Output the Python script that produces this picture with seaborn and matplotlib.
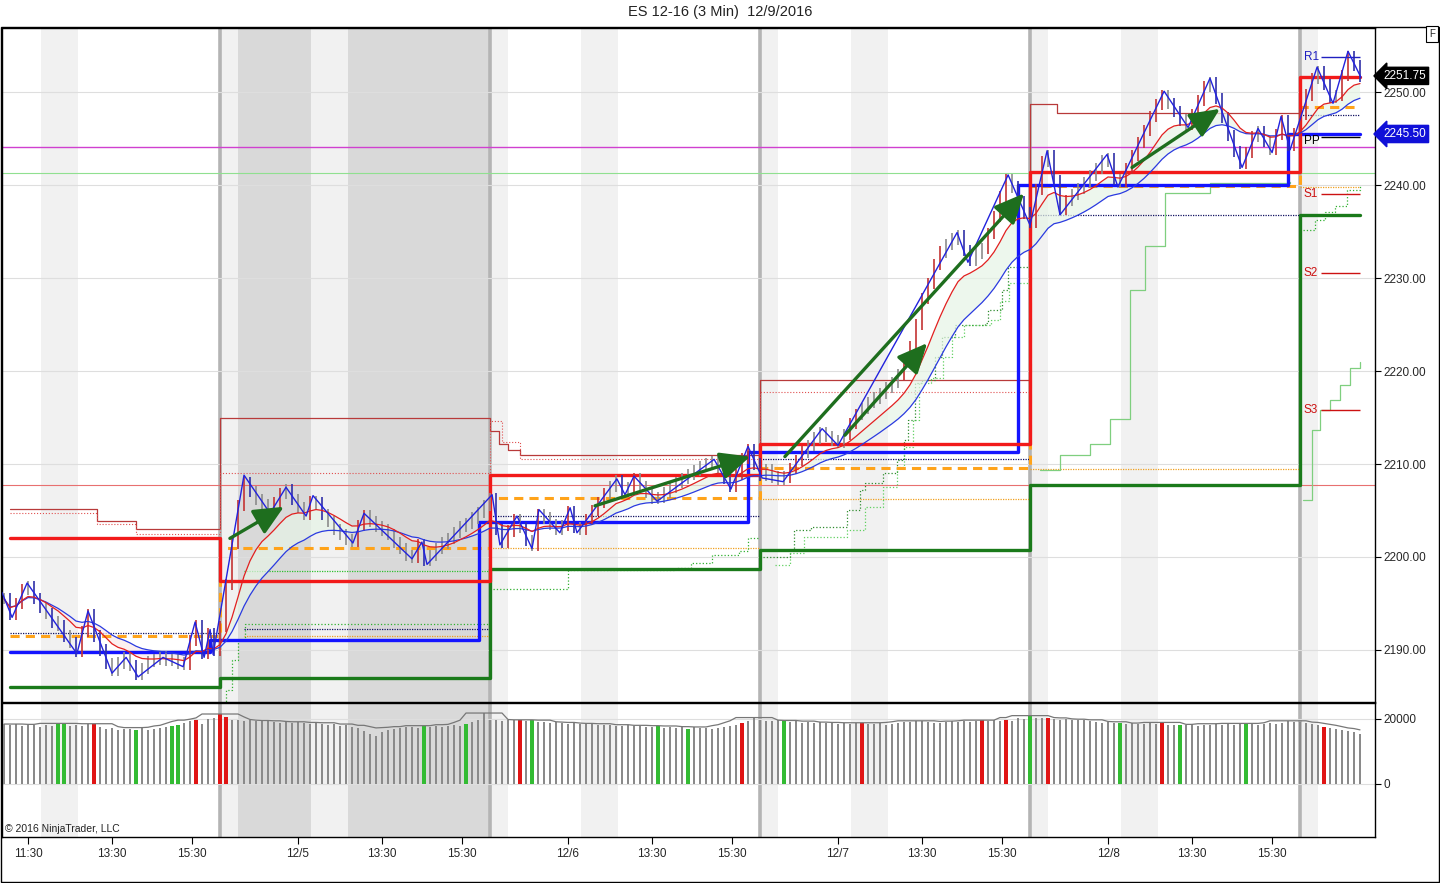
import numpy as np
import pandas as pd
import matplotlib
matplotlib.use("Agg")
from matplotlib import pyplot as plt
from matplotlib import transforms
from matplotlib.patches import Rectangle
import seaborn as sns

sns.set_theme(style="white")
plt.rcParams["font.family"] = ["Liberation Sans", "DejaVu Sans"]

# ---------------- data (bar index = 3 min bars, 90 per session) ----------------

sess_edges = [20, 90, 180, 270, 360, 450, 470]
tick_labels = ["11:30", "13:30", "15:30",
               "12/5", "13:30", "15:30",
               "12/6", "13:30", "15:30",
               "12/7", "13:30", "15:30",
               "12/8", "13:30", "15:30"]

# closes, one every 2 bars from bar 18 to bar 470
close = [
    # 12/2
    2195.5, 2193.8, 2195.0, 2196.5, 2196.8, 2195.5, 2194.6, 2193.9, 2193.0, 2192.6,
    2191.5, 2190.8, 2189.8, 2192.0, 2193.8, 2191.5, 2190.0, 2188.5, 2187.8, 2188.6,
    2189.2, 2188.3, 2187.4, 2188.0, 2188.8, 2189.0, 2189.3, 2188.9, 2189.0, 2188.6,
    2188.4, 2191.0, 2192.6, 2189.6, 2191.8, 2190.0,
    # 12/5
    2192.5, 2197.0, 2201.5, 2205.5, 2208.0, 2207.0, 2206.2, 2205.6, 2204.9, 2205.8,
    2206.8, 2207.2, 2206.2, 2205.3, 2204.6, 2206.0, 2205.8, 2204.6, 2203.8, 2203.0,
    2202.4, 2201.9, 2201.7, 2203.4, 2204.4, 2203.8, 2203.3, 2202.9, 2202.4, 2201.6,
    2200.9, 2200.2, 2200.0, 2201.3, 2199.6, 2200.2, 2200.9, 2201.5, 2202.0, 2202.6,
    2203.3, 2203.6, 2204.2, 2204.8, 2205.5,
    # 12/6
    2206.3, 2203.0, 2201.6, 2202.8, 2204.0, 2203.2, 2201.8, 2201.2, 2204.6, 2204.2,
    2203.5, 2203.0, 2203.4, 2204.9, 2203.2, 2203.0, 2204.0, 2205.0, 2205.9, 2206.8,
    2207.6, 2208.2, 2207.0, 2207.5, 2208.4, 2207.6, 2206.9, 2206.3, 2206.4, 2206.9,
    2207.5, 2208.0, 2208.4, 2208.9, 2209.3, 2209.7, 2210.0, 2210.3, 2209.6, 2208.5,
    2207.6, 2208.9, 2210.6, 2211.5, 2210.0,
    # 12/7
    2208.8, 2209.4, 2208.6, 2208.3, 2208.6, 2209.5, 2210.4, 2211.3, 2212.0, 2212.8,
    2213.4, 2213.0, 2212.5, 2212.3, 2213.2, 2214.4, 2215.3, 2216.0, 2216.6, 2217.1,
    2217.6, 2218.2, 2218.8, 2219.6, 2220.9, 2222.6, 2225.0, 2227.8, 2229.4, 2231.5,
    2232.8, 2233.6, 2234.2, 2234.6, 2233.0, 2231.9, 2232.6, 2233.2, 2234.8, 2236.6,
    2238.8, 2240.6, 2239.8, 2238.2, 2237.0,
    # 12/8
    2236.0, 2239.5, 2242.5, 2243.2, 2240.5, 2237.4, 2238.3, 2239.0, 2239.6, 2240.3,
    2241.0, 2241.8, 2242.6, 2242.9, 2240.6, 2240.4, 2241.8, 2243.2, 2244.6, 2245.9,
    2247.4, 2248.7, 2249.6, 2248.8, 2247.9, 2247.0, 2246.5, 2247.6, 2249.1, 2250.6,
    2251.0, 2249.3, 2247.3, 2245.3, 2243.6, 2242.3, 2243.5, 2245.2, 2245.8, 2244.7,
    2243.8, 2245.4, 2246.9, 2244.3,
    # 12/9
    2245.5, 2247.6, 2249.7, 2251.5, 2252.2, 2250.8, 2249.4, 2249.6, 2251.8, 2253.8,
    2252.9, 2251.7,
]
bar_x = np.arange(18, 472, 2)

# swing (zigzag) pivots
zz_x = [17.3, 20.7, 25.7, 42.3, 46.0, 54.0, 58.7, 62.7, 71.0, 77.7, 81.7, 84.7, 86.7, 87.7,
        98.0, 106.7, 112.0, 118.7, 121.0, 134.3, 138.0, 154.0, 157.3, 159.0,
        180.7, 183.3, 189.0, 194.0, 196.3, 203.3, 206.7, 209.0, 222.3, 225.0, 228.0, 235.7,
        254.7, 260.3, 266.0, 270.7, 277.7, 290.7, 296.0, 335.7, 339.3, 352.7, 360.0,
        365.7, 370.0, 385.7, 389.3, 404.7, 412.7, 420.0, 430.7, 436.0, 440.7, 443.7, 446.7,
        455.7, 461.0, 466.0, 470.3]
zz_y = [2196.2, 2193.5, 2197.2, 2189.6, 2194.2, 2187.5, 2189.2, 2187.1, 2189.2, 2188.2, 2193.0, 2189.2, 2192.2, 2189.5,
        2208.8, 2204.7, 2207.5, 2204.4, 2206.6, 2201.5, 2204.7, 2199.8, 2201.6, 2199.2,
        2206.7, 2201.3, 2204.4, 2200.9, 2205.1, 2202.6, 2205.3, 2202.6, 2208.4, 2206.7, 2208.7, 2206.0,
        2210.5, 2207.3, 2211.9, 2208.5, 2208.1, 2213.8, 2212.0, 2234.9, 2231.7, 2241.1, 2235.7,
        2243.7, 2236.8, 2243.3, 2239.8, 2250.1, 2246.2, 2251.5, 2241.9, 2246.1, 2243.5, 2247.4, 2243.8,
        2252.7, 2248.8, 2254.4, 2251.6]

# daily levels, one per session
red_thick = [2202.0, 2197.4, 2208.8, 2212.2, 2241.4, 2251.6]
green_thick = [2186.0, 2187.0, 2198.7, 2200.8, 2207.7, 2236.8]
orange_mid = [2191.5, 2201.0, 2206.3, 2209.6, 2239.9, 2248.4]
blue_x = [20, 86.7, 176.3, 266, 356, 446, 470]
blue_y = [2189.8, 2191.1, 2203.8, 2211.3, 2240.0, 2245.5, 2245.5]

prior_hi_x = [20, 49, 62, 90, 180, 183, 186, 190, 270, 360, 369, 450]
prior_hi_y = [2205.2, 2203.9, 2203.0, 2215.0, 2213.6, 2212.2, 2211.5, 2211.0, 2219.0, 2248.7, 2247.8, 2247.8]
prior_hi2_x = [20, 49, 62, 90, 180, 184, 190, 270, 360]
prior_hi2_y = [2204.7, 2203.5, 2202.5, 2209.0, 2214.6, 2212.4, 2210.5, 2217.7, 2217.7]

dark_dotted = [2191.8, 2192.3, 2204.4, 2210.5, 2236.8, 2247.5]
orange_dotted = [np.nan, 2191.5, 2201.0, 2206.2, 2209.5, 2239.8]
green_dotted = [np.nan, 2198.5, np.nan, np.nan, np.nan, np.nan]

dev1_x = [90, 92, 94, 96, 98.3, 180]
dev1_y = [2183.3, 2185.7, 2188.9, 2191.1, 2192.8, 2192.8]
dev2_x = [181, 201, 206, 242, 247, 254, 263, 266, 270]
dev2_y = [2196.6, 2196.6, 2198.6, 2198.8, 2199.4, 2200.2, 2200.6, 2202.0, 2202.0]
dev3_x = [271, 280, 281.2, 287, 299, 303.3, 305, 311, 315.7, 318, 319.3, 321.7, 324, 328.3, 330.7,
          335, 345, 346, 350.7, 352.7, 360]
dev3_y = [2200.0, 2200.8, 2202.9, 2203.2, 2205.1, 2207.2, 2208.0, 2209.0, 2210.4, 2212.6, 2214.7,
          2218.7, 2219.0, 2221.5, 2223.7, 2225.0, 2225.2, 2226.6, 2228.7, 2231.2, 2231.2]
dev3b_x = [275, 280, 284.7, 299, 305, 311, 315.7, 318, 321, 323, 327, 331, 334, 338, 347, 350, 353, 360]
dev3b_y = [2199.1, 2200.4, 2202.2, 2202.9, 2205.4, 2207.5, 2209.7, 2211.8, 2214.7, 2218.7, 2219.2,
           2221.5, 2223.7, 2225.0, 2225.5, 2227.5, 2229.5, 2229.5]
dev4_x = [363.3, 370, 380, 386.7, 393.3, 398.3, 405, 420, 446.7]
dev4_y = [2209.4, 2211.0, 2212.1, 2214.8, 2228.7, 2233.5, 2239.1, 2240.2, 2240.3]
dev5_x = [451, 455, 458.3, 461.7, 465.7, 470]
dev5_y = [2235.2, 2236.2, 2237.1, 2237.8, 2239.5, 2239.9]
dev6_x = [451, 454, 456.7, 460, 463.3, 466.7, 470]
dev6_y = [2206.1, 2213.7, 2215.8, 2216.9, 2218.5, 2220.3, 2221.0]

full_lines = [(2207.7, "#e87070", 0.8), (2244.1, "#d040d0", 1.0), (2241.3, "#90e090", 0.8)]

pivot_names = ["R1", "PP", "S1", "S2", "S3"]
pivot_vals = [2253.8, 2245.2, 2239.0, 2230.5, 2215.8]
pivot_cols = ["#2020c0", "#000000", "#cc1111", "#cc1111", "#cc1111"]

arrows = [((93.3, 2202.0), (111.3, 2205.4)),
          ((215.0, 2205.5), (266.7, 2210.8)),
          ((278.3, 2210.8), (358.0, 2239.1)),
          ((298.3, 2213.1), (325.7, 2223.0)),
          ((394.0, 2241.9), (423.3, 2248.2))]

# volume (thousands), same sampling as close
vol = [
    18.4, 18.1, 18.3, 17.9, 18.2, 18.0, 17.6, 18.1, 17.8, 18.6, 18.4, 17.9, 18.0, 17.7, 18.3, 18.5, 17.6,
    16.9, 17.2, 16.6, 16.8, 17.0, 16.5, 17.3, 16.7, 16.9, 17.1, 17.4,
    17.8, 18.0, 18.6, 19.2, 19.6, 18.4, 19.9, 20.3,
    21.5, 20.6, 19.8, 19.6, 19.4, 19.5, 19.3, 19.4, 19.2,
    19.0, 18.8, 19.1, 18.7, 18.9, 18.6, 18.5, 18.8, 18.3, 18.1, 18.4, 17.9, 18.0,
    17.6, 17.2, 16.4, 15.2, 14.6, 15.8, 16.6, 17.0, 17.3,
    17.4, 17.6, 17.2, 17.9, 17.5, 17.8, 17.4, 17.9, 18.2, 17.8, 18.3, 18.9, 19.6,
    21.8, 19.8, 19.6, 19.4, 19.5, 19.7, 19.5, 19.3, 19.6, 19.1, 19.0, 18.8, 18.9,
    18.7, 18.5, 18.6, 18.4, 18.3, 18.5, 18.2, 18.0, 18.2, 17.9, 17.8, 18.0, 17.7, 17.9, 17.6, 17.5, 17.8, 17.3, 17.6, 17.2,
    17.4, 17.0, 17.5, 17.3, 17.1, 16.8, 17.2, 17.5, 17.9, 18.2, 18.8, 19.4, 20.4,
    19.6, 19.4, 19.3, 19.5, 19.2, 19.0, 19.3, 18.8, 19.0, 18.7, 18.9, 18.6,
    18.8, 18.5, 18.7, 18.4, 18.6, 18.8, 18.3, 18.5, 18.6, 18.2, 18.4, 18.7, 18.9, 19.1, 19.4, 19.2, 19.0, 18.6, 18.8, 19.0, 19.2, 19.0, 19.3,
    19.1, 19.4, 19.6, 19.3, 19.5, 19.4, 19.6, 19.2, 20.4, 20.1,
    21.0, 20.4, 20.2, 20.3, 20.0, 19.8, 19.9, 19.6, 19.5, 19.7,
    19.2, 19.0, 18.8, 19.1, 18.7, 18.6, 18.4, 18.7, 18.5, 18.3, 18.6, 18.4, 18.9, 18.2, 18.0,
    18.1, 18.0, 18.3, 17.9, 18.2, 18.0, 18.5, 18.1, 18.4, 18.2, 18.6, 18.3, 18.5, 18.2, 18.4, 18.6, 18.3, 18.8, 19.4, 19.0,
    18.9, 18.6, 18.3, 18.0, 17.6, 17.2, 17.0, 16.6, 16.2, 15.8, 15.4,
]
vol_up = [9, 10, 22, 28, 29, 70, 77, 88, 109, 114, 130, 171, 186, 196, 207]
vol_dn = [15, 32, 36, 37, 86, 123, 143, 163, 167, 174, 193, 220]

# ---------------- figure ----------------
W, H = 1440, 883
fig = plt.figure(figsize=(W / 100, H / 100), dpi=100)
ax = fig.add_axes([2 / W, 1 - 702 / H, 1373 / W, 674 / H])
axv = fig.add_axes([2 / W, 1 - 837 / H, 1373 / W, 134 / H], sharex=ax)

XMIN, XMAX = 17.33, 475
ax.set_xlim(XMIN, XMAX)
ax.set_ylim(2184.4, 2256.9)
axv.set_ylim(-16500, 24900)

# session background bands
for a in (ax, axv):
    for k in range(6):
        s = 90 * k
        a.axvspan(s, s + 6, color="#f1f1f1", lw=0, zorder=0)
        a.axvspan(s + 30.3, s + 42.7, color="#f1f1f1", lw=0, zorder=0)
    a.axvspan(96, 120.3, color="#d9d9d9", lw=0, zorder=0)
    a.axvspan(132.7, 180, color="#d9d9d9", lw=0, zorder=0)
    for e in sess_edges[1:-1]:
        a.axvline(e, color="#b4b4b4", lw=2.6, zorder=1)

for p in range(2190, 2251, 10):
    ax.axhline(p, color="#dedede", lw=0.8, zorder=1)
for p in [0, 20000]:
    axv.axhline(p, color="#dedede", lw=0.8, zorder=1)
for lvl, col, w in full_lines:
    ax.axhline(lvl, color=col, lw=w, zorder=2)

# thin prior-day levels
sns.lineplot(x=prior_hi_x, y=prior_hi_y, drawstyle="steps-post", color="#b83a3a", lw=0.9, ax=ax, zorder=2)
sns.lineplot(x=prior_hi2_x, y=prior_hi2_y, drawstyle="steps-post", color="#e05050", lw=0.8,
             linestyle=":", ax=ax, zorder=2)
for k in range(6):
    x0 = sess_edges[k] if k != 1 else 98
    x1 = sess_edges[k + 1]
    ax.hlines(dark_dotted[k], x0, x1, colors="#101060", lw=0.9, linestyles=(0, (1, 1)), zorder=2)
    ax.hlines(orange_dotted[k], x0, x1, colors="#f0a020", lw=0.9, linestyles=(0, (1, 1)), zorder=2)
    ax.hlines(green_dotted[k], x0, x1, colors="#30c030", lw=0.9, linestyles=(0, (1, 1)), zorder=2)

for xs, ys, ls, col in [(dev1_x, dev1_y, ":", "#30b030"), (dev2_x, dev2_y, ":", "#30b030"),
                        (dev3_x, dev3_y, ":", "#2e8b2e"), (dev3b_x, dev3b_y, ":", "#60d060"),
                        (dev4_x, dev4_y, "-", "#7fcf7f"),
                        (dev5_x, dev5_y, ":", "#30b030"), (dev6_x, dev6_y, "-", "#7fcf7f")]:
    sns.lineplot(x=xs, y=ys, drawstyle="steps-post", color=col, lw=0.9, linestyle=ls, ax=ax, zorder=2)

# moving averages and faint cloud between them
cs = pd.Series(close, index=bar_x)
ema_f = cs.ewm(span=10).mean()
ema_s = cs.ewm(span=20).mean()
ax.fill_between(bar_x, ema_f, ema_s, where=(ema_f >= ema_s), interpolate=True,
                color="#e6f4e6", alpha=0.7, lw=0, zorder=2)
ax.fill_between(bar_x, ema_f, ema_s, where=(ema_f < ema_s), interpolate=True,
                color="#fbeaea", alpha=0.7, lw=0, zorder=2)

# daily thick levels
lev_x = sess_edges[:-1] + [sess_edges[-1]]
sns.lineplot(x=lev_x, y=green_thick + [green_thick[-1]], drawstyle="steps-post", color="#1a7a1a", lw=2.4, ax=ax, zorder=4)
sns.lineplot(x=lev_x, y=orange_mid + [orange_mid[-1]], drawstyle="steps-post", color="#ffa31a", lw=2.2,
             linestyle=(0, (3, 2)), ax=ax, zorder=4)
sns.lineplot(x=blue_x, y=blue_y, drawstyle="steps-post", color="#1414ff", lw=2.4, ax=ax, zorder=4)
sns.lineplot(x=lev_x, y=red_thick + [red_thick[-1]], drawstyle="steps-post", color="#f21a1a", lw=2.4, ax=ax, zorder=4)

# price bars
prev = np.r_[close[0], close[:-1]]
cur = np.array(close)
lo = np.minimum(prev, cur) - 0.6
hi = np.maximum(prev, cur) + 0.6
chg = cur - prev
bar_col = np.where(chg > 0.9, "#c43434", np.where(chg < -0.9, "#3030a8", "#8c8c8c"))
ax.vlines(bar_x, lo, hi, colors=bar_col, lw=1.2, zorder=5)

sns.lineplot(x=bar_x, y=ema_s.values, color="#2a3ae0", lw=0.9, ax=ax, zorder=6)
sns.lineplot(x=bar_x, y=ema_f.values, color="#e22020", lw=0.9, ax=ax, zorder=6)
sns.lineplot(x=zz_x, y=zz_y, color="#2222dd", lw=1.0, ax=ax, zorder=7, sort=False, estimator=None)

for (x0, y0), (x1, y1) in arrows:
    ax.annotate("", xy=(x1, y1), xytext=(x0, y0), zorder=8,
                arrowprops=dict(arrowstyle="-|>,head_length=1.3,head_width=0.6", mutation_scale=14,
                                color="#1e6e1e", lw=2.4, shrinkA=0, shrinkB=0))

# floor pivots for the last session
for nm, v, col in zip(pivot_names, pivot_vals, pivot_cols):
    ax.hlines(v, 457, 470, colors=col, lw=1.0, zorder=6)
    ty = v - 0.45 if nm == "PP" else v
    ax.text(451.3, ty, nm, color=col, fontsize=8.5, va="center", ha="left", zorder=9)

# volume panel
vol_arr = np.array(vol) * 1000
vcol = np.array(["#8a8a8a"] * len(vol))
vw = np.full(len(vol), 0.75)
vcol[vol_up] = "#33bb33"
vcol[vol_dn] = "#e01414"
vw[vol_up] = 1.5
vw[vol_dn] = 1.5
axv.bar(bar_x, vol_arr, width=vw, color=vcol, lw=0, zorder=3)
vavg = pd.Series(vol_arr).rolling(7, center=True, min_periods=1).max()
sns.lineplot(x=bar_x, y=vavg.values, color="#777777", lw=0.9, ax=axv, zorder=4)
axv.text(0.002, 0.035, "\u00a9 2016 NinjaTrader, LLC", transform=axv.transAxes, fontsize=7.5, color="#222222")

# axes cosmetics
for a in (ax, axv):
    a.set_xlabel("")
    a.set_ylabel("")
    a.yaxis.tick_right()
    for sp in a.spines.values():
        sp.set_color("black")
        sp.set_linewidth(1.0)
    a.tick_params(axis="y", which="both", right=True, left=False, direction="out", length=4,
                  width=0.8, color="black", labelsize=8.5, pad=2)

yt = list(range(2190, 2251, 10))
ax.set_yticks(yt)
ax.set_yticklabels([f"{v:.2f}" for v in yt])
ax.tick_params(axis="x", which="both", bottom=False, labelbottom=False)
axv.set_yticks([0, 20000])
axv.set_yticklabels(["0", "20000"])

xt = []
for k in range(5):
    xt += [90 * k + 26, 90 * k + 54, 90 * k + 80.5]
axv.set_xticks(xt)
axv.set_xticklabels(tick_labels)
axv.tick_params(axis="x", bottom=True, direction="out", length=5, width=0.8, color="black",
                labelsize=8.5, pad=3)
ax.set_xlim(XMIN, XMAX)

# last price / pivot tags
tr = transforms.blended_transform_factory(ax.transAxes, ax.transData)
ax.text(1.006, 2251.75, "2251.75", transform=tr, color="white", fontsize=8.5, va="center", ha="left",
        bbox=dict(boxstyle="larrow,pad=0.22", fc="black", ec="black"), zorder=10)
ax.text(1.006, 2245.5, "2245.50", transform=tr, color="white", fontsize=8.5, va="center", ha="left",
        bbox=dict(boxstyle="larrow,pad=0.22", fc="#1010d8", ec="#1010d8"), zorder=10)

fig.text(0.5, 1 - 12 / H, "ES 12-16 (3 Min)  12/9/2016", ha="center", va="center", fontsize=10.5, color="#222222")
fig.text(1 - 8 / W, 1 - 34 / H, "F", ha="center", va="center", fontsize=7,
         bbox=dict(boxstyle="square,pad=0.3", fc="white", ec="black", lw=0.8))
fig.patches.append(Rectangle((0.0004, 0.0008), 0.9990, 1 - 27 / H - 0.0008, transform=fig.transFigure,
                             fill=False, ec="black", lw=1.0))

fig.savefig("out.png", dpi=100)
